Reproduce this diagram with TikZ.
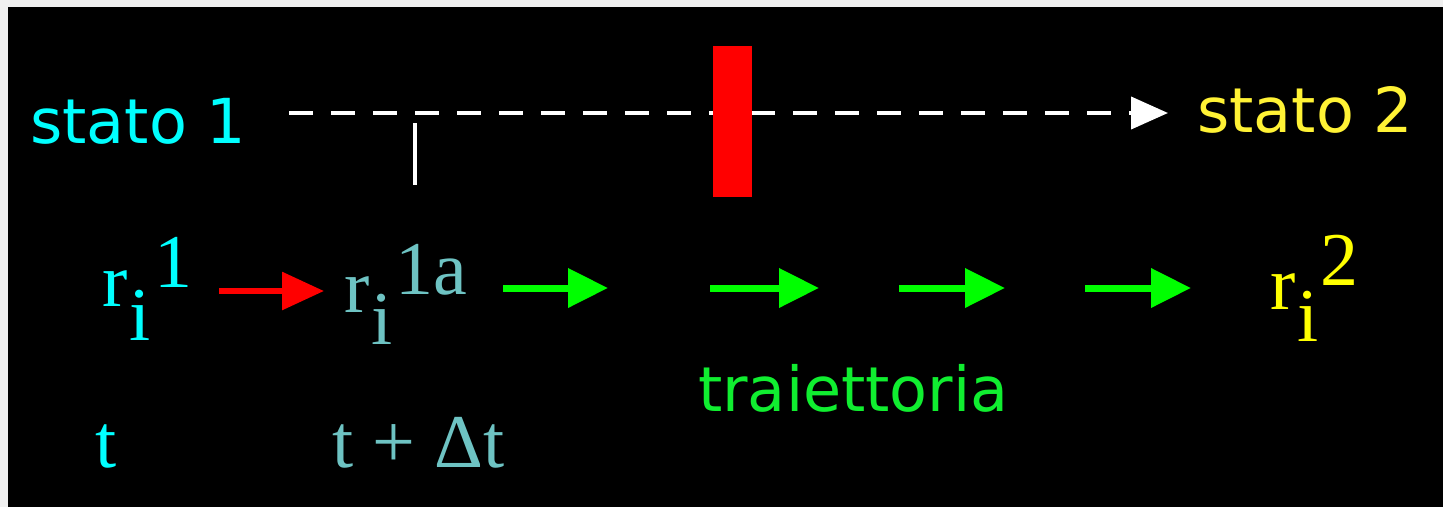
\documentclass[tikz,border=0pt]{standalone}
\usepackage{fontspec}
\usetikzlibrary{arrows.meta}
\newfontfamily\sansfam{DejaVu Sans}
\newfontfamily\seriffam{Liberation Serif}
\definecolor{bggray}{HTML}{F0F0F0}
\definecolor{cyantxt}{HTML}{00FFFF}
\definecolor{tealtxt}{HTML}{6EC3C3}
\definecolor{yeltxt}{HTML}{FFF235}
\definecolor{yelmath}{HTML}{FFFF00}
\definecolor{grarrow}{HTML}{00FF00}
\definecolor{grtxt}{HTML}{10EE30}
\begin{document}
\begin{tikzpicture}[x=1pt,y=-1pt,
  sanslbl/.style={anchor=base west,inner sep=0pt,font=\sansfam\fontsize{62}{72}\selectfont},
  seriflbl/.style={anchor=base west,inner sep=0pt,font=\seriffam\fontsize{76}{86}\selectfont},
  steparrow/.style={draw=grarrow,line width=7pt,-{Triangle[length=40pt,width=38pt]}},
  firstarrow/.style={draw=red,line width=6pt,-{Triangle[length=42pt,width=37pt]}}
]
\useasboundingbox (0,0) rectangle (1443,507);
\fill[bggray] (0,0) rectangle (1443,507);
\fill[black] (8,7) rectangle (1443,507);

% states
\node[sanslbl,text=cyantxt] (s1) at (30,143) {stato 1};
\node[sanslbl,text=yeltxt] (s2) at (1197,132) {stato 2};
\coordinate (dstart) at (289,113);
\coordinate (dend) at (1168,113);
\draw[white,line width=4pt,dash pattern=on 24pt off 18pt,-{Triangle[length=37pt,width=32pt]}] (dstart) -- (dend);
\coordinate (tickTop) at (415,123);
\coordinate (tickBot) at (415,185);
\draw[white,line width=4pt] (tickTop) -- (tickBot);
\node[fill=red,inner sep=0pt,minimum width=39pt,minimum height=151pt] (bar) at (732.5,121.5) {};

% positions
\node[seriflbl,text=cyantxt] (r1) at (102,306) {r\kern2pt\raisebox{-34pt}{i}\kern4pt\raisebox{19pt}{1}};
\node[seriflbl,text=tealtxt] (r1a) at (344,312) {r\kern2pt\raisebox{-32pt}{i}\kern3pt\raisebox{18pt}{1a}};
\node[seriflbl,text=yelmath] (r2) at (1270,309) {r\kern2pt\raisebox{-32pt}{i}\kern2pt\raisebox{24pt}{2}};

% arrows
\coordinate (a0s) at (219,291); \coordinate (a0e) at (324,291);
\draw[firstarrow] (a0s) -- (a0e);
\coordinate (a1s) at (503,288); \coordinate (a1e) at (608,288);
\coordinate (a2s) at (710,288); \coordinate (a2e) at (819,288);
\coordinate (a3s) at (899,288); \coordinate (a3e) at (1005,288);
\coordinate (a4s) at (1085,288); \coordinate (a4e) at (1191,288);
\draw[steparrow] (a1s) -- (a1e);
\draw[steparrow] (a2s) -- (a2e);
\draw[steparrow] (a3s) -- (a3e);
\draw[steparrow] (a4s) -- (a4e);

\node[sanslbl,text=grtxt] (traj) at (698,411) {traiettoria};

% times
\node[seriflbl,text=cyantxt] (t0) at (95,467) {t};
\node[seriflbl,text=tealtxt] (t1) at (332,467) {t + Δt};
\end{tikzpicture}
\end{document}
